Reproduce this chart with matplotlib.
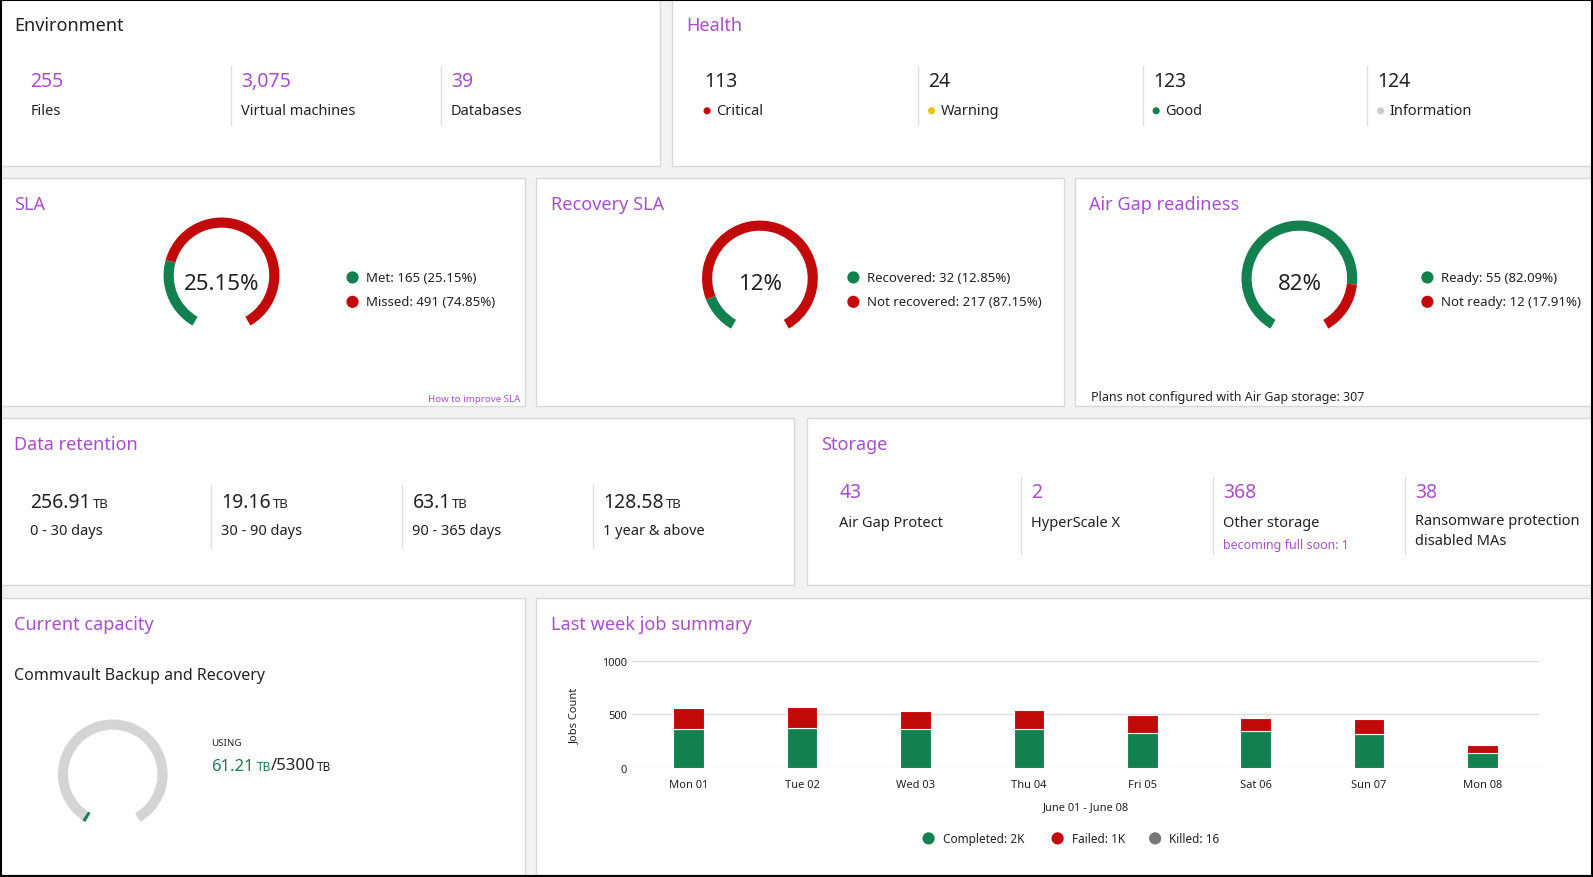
import matplotlib
matplotlib.use("Agg")
import matplotlib.pyplot as plt
from matplotlib.patches import Rectangle, Wedge, Circle

plt.rcParams['font.family'] = ['Noto Sans', 'DejaVu Sans']

PURPLE = '#a64fc9'
GREEN = '#138050'
RED = '#c20a0a'
DARK = '#222222'

env_values = ['255', '3,075', '39']
env_labels = ['Files', 'Virtual machines', 'Databases']
health_values = ['113', '24', '123', '124']
health_labels = ['Critical', 'Warning', 'Good', 'Information']
health_colors = [RED, '#e8c20c', GREEN, '#cccccc']

sla_pct = 25.15
sla_legend = ['Met: 165 (25.15%)', 'Missed: 491 (74.85%)']
rec_pct = 12.85
rec_legend = ['Recovered: 32 (12.85%)', 'Not recovered: 217 (87.15%)']
air_pct = 82.09
air_legend = ['Ready: 55 (82.09%)', 'Not ready: 12 (17.91%)']

ret_values = ['256.91', '19.16', '63.1', '128.58']
ret_labels = ['0 - 30 days', '30 - 90 days', '90 - 365 days', '1 year & above']
sto_values = ['43', '2', '368', '38']
sto_labels = ['Air Gap Protect', 'HyperScale X', 'Other storage', 'Ransomware protection\ndisabled MAs']

cap_used = 61.21
cap_total = 5300

days = ['Mon 01', 'Tue 02', 'Wed 03', 'Thu 04', 'Fri 05', 'Sat 06', 'Sun 07', 'Mon 08']
completed = [360, 378, 368, 368, 332, 342, 322, 145]
failed = [200, 192, 164, 174, 165, 126, 138, 75]
killed = [2, 2, 2, 2, 2, 2, 2, 2]

# layout coordinates are in the reference's 1568x864 grid
W, H = 1568, 864
fig = plt.figure(figsize=(15.93, 8.78), dpi=100)
fig.patch.set_facecolor('#f2f2f2')
ax = fig.add_axes([0, 0, 1, 1])
ax.set_xlim(0, W)
ax.set_ylim(H, 0)
ax.axis('off')
ax.add_patch(Rectangle((0.5, 0.5), W - 1, H - 1.5, fill=False, ec='black', lw=1.5, zorder=10))


def panel(x0, y0, x1, y1, title, tcolor=PURPLE):
    ax.add_patch(Rectangle((x0, y0), x1 - x0, y1 - y0, fc='white', ec='#d8d8d8', lw=1))
    ax.text(x0 + 14, y0 + 26, title, fontsize=13, color=tcolor, va='center')


def sep(x, y0, y1):
    ax.plot([x, x], [y0, y1], color='#e0e0e0', lw=1)


def gauge(cx, cy, r, pct, c1, c2, w=10):
    # y axis is inverted: data angle 120 is bottom-left on screen, sweep goes clockwise on screen
    a = 120 + 300 * pct / 100
    ax.add_patch(Wedge((cx, cy), r, 120, a, width=w, fc=c1, ec='none'))
    ax.add_patch(Wedge((cx, cy), r, a, 420, width=w, fc=c2, ec='none'))


def gauge_legend(x, y, items, colors):
    for i, (t, c) in enumerate(zip(items, colors)):
        ax.add_patch(Circle((x, y + i * 24), 6, fc=c, ec='none'))
        ax.text(x + 13, y + i * 24, t, fontsize=9.5, color=DARK, va='center')


# Environment
panel(0, 0, 650, 164, 'Environment', DARK)
for i, (v, l) in enumerate(zip(env_values, env_labels)):
    x = 30 + i * 207
    ax.text(x, 81, v, fontsize=14, color=PURPLE, va='center')
    ax.text(x, 110, l, fontsize=10.5, color=DARK, va='center')
    if i:
        sep(x - 10, 66, 124)

# Health
panel(661, 0, 1567, 164, 'Health')
for i, (v, l, c) in enumerate(zip(health_values, health_labels, health_colors)):
    x = 693 + i * 221
    ax.text(x, 81, v, fontsize=14, color=DARK, va='center')
    ax.add_patch(Circle((x + 3, 110), 3.5, fc=c, ec='none'))
    ax.text(x + 12, 110, l, fontsize=10.5, color=DARK, va='center')
    if i:
        sep(x - 10, 66, 124)

# SLA panels
panel(0, 176, 517, 401, 'SLA')
gauge(218, 272, 57, sla_pct, GREEN, RED)
ax.text(218, 280, '25.15%', fontsize=16, color=DARK, ha='center', va='center')
gauge_legend(347, 274, sla_legend, [GREEN, RED])
ax.text(512, 393, 'How to improve SLA', fontsize=7, color=PURPLE, ha='right', va='center')

panel(528, 176, 1047, 401, 'Recovery SLA')
gauge(748, 275, 57, rec_pct, GREEN, RED)
ax.text(748, 280, '12%', fontsize=16, color=DARK, ha='center', va='center')
gauge_legend(840, 274, rec_legend, [GREEN, RED])

panel(1058, 176, 1567, 401, 'Air Gap readiness')
gauge(1279, 275, 57, air_pct, GREEN, RED)
ax.text(1279, 280, '82%', fontsize=16, color=DARK, ha='center', va='center')
gauge_legend(1405, 274, air_legend, [GREEN, RED])
ax.text(1074, 391, 'Plans not configured with Air Gap storage: 307', fontsize=9, color=DARK, va='center')

# Data retention
panel(0, 412, 782, 577, 'Data retention')
for i, (v, l) in enumerate(zip(ret_values, ret_labels)):
    x = 30 + i * 188
    t = ax.text(x, 495, v, fontsize=14, color=DARK, va='center')
    ax.annotate('TB', xycoords=t, xy=(1, 0.12), xytext=(1, 0), textcoords='offset points',
                fontsize=9.5, color=DARK, va='bottom')
    ax.text(x, 523, l, fontsize=10.5, color=DARK, va='center')
    if i:
        sep(x - 10, 478, 540)

# Storage
panel(794, 412, 1567, 577, 'Storage')
for i, (v, l) in enumerate(zip(sto_values, sto_labels)):
    x = 826 + i * 189
    ax.text(x, 485, v, fontsize=14, color=PURPLE, va='center')
    ax.text(x, 515 if i < 3 else 523, l, fontsize=10.5, color=DARK, va='center', linespacing=1.5)
    if i:
        sep(x - 10, 470, 546)
ax.text(1204, 537, 'becoming full soon: 1', fontsize=9, color=PURPLE, va='center')

# Current capacity
panel(0, 589, 517, 862, 'Current capacity')
ax.text(14, 665, 'Commvault Backup and Recovery', fontsize=11.5, color=DARK, va='center')
cap_pct = cap_used / cap_total * 100
ax.add_patch(Wedge((111, 763), 54, 120, 420, width=10, fc='#d4d4d4', ec='none'))
ax.add_patch(Wedge((111, 763), 54, 120, 120 + max(cap_pct, 0.6) * 3, width=10, fc=GREEN, ec='none'))
ax.text(208, 732, 'USING', fontsize=7, color=DARK, va='center')
t = ax.text(208, 755, f'{cap_used}', fontsize=12, color=GREEN, va='center')
t = ax.annotate('TB', xycoords=t, xy=(1, 0.1), xytext=(2, 0), textcoords='offset points',
                fontsize=8.5, color=GREEN, va='bottom')
t = ax.annotate(f'/{cap_total}', xycoords=t, xy=(1, 0), xytext=(0, 0), textcoords='offset points',
                fontsize=12, color=DARK, va='bottom')
ax.annotate('TB', xycoords=t, xy=(1, 0), xytext=(1, 0), textcoords='offset points',
            fontsize=8.5, color=DARK, va='bottom')

# Last week job summary
panel(528, 589, 1567, 862, 'Last week job summary')
bx = fig.add_axes([622 / W, 1 - 757 / H, (1515 - 622) / W, (757 - 651) / H])
pos = range(len(days))
bx.bar(pos, completed, width=0.27, color=GREEN, ec='white', lw=0.8)
bx.bar(pos, failed, bottom=completed, width=0.27, color=RED, ec='white', lw=0.8)
bx.set_ylim(0, 1000)
bx.set_xlim(-0.5, len(days) - 0.5)
bx.set_yticks([0, 500, 1000])
bx.set_xticks(list(pos))
bx.set_xticklabels(days)
bx.tick_params(length=0, labelsize=8, colors=DARK)
bx.tick_params(axis='x', pad=8)
bx.grid(axis='y', color='#dddddd', lw=1)
bx.set_axisbelow(True)
for s in bx.spines.values():
    s.set_visible(False)
bx.set_ylabel('Jobs Count', fontsize=8, color=DARK, labelpad=16)
bx.set_xlabel('June 01 - June 08', fontsize=8, color=DARK, labelpad=8)

leg = [('Completed: %dK' % (sum(completed) // 1000), GREEN, 914),
       ('Failed: %dK' % (sum(failed) // 1000), RED, 1041),
       ('Killed: %d' % sum(killed), '#777777', 1137)]
for t, c, x in leg:
    ax.add_patch(Circle((x, 826), 6, fc=c, ec='none'))
    ax.text(x + 14, 826, t, fontsize=8.5, color=DARK, va='center')

fig.savefig('out.png', dpi=100, facecolor=fig.get_facecolor())
